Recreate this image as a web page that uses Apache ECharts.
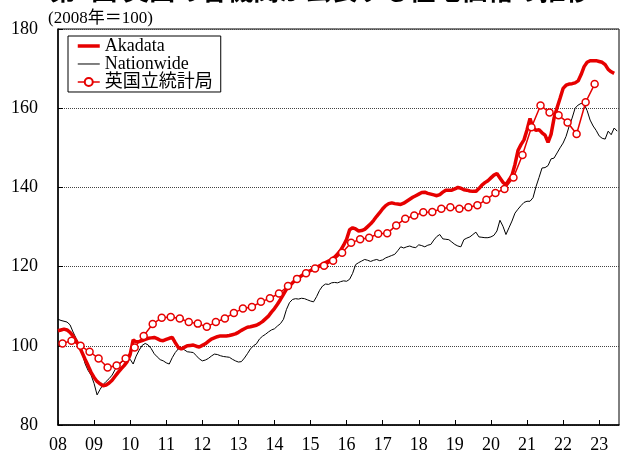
<!DOCTYPE html>
<html>
<head>
<meta charset="utf-8">
<script src="https://cdn.jsdelivr.net/npm/echarts@6/dist/echarts.min.js"></script>
<style>
  html, body { margin: 0; padding: 0; background: #fff; }
  #chart { width: 620px; height: 454px; }
</style>
</head>
<body>
<div id="chart"></div>
<script>
// monthly, Jan 2008 onward (2008 = 100)
const akadata = [
  103.8, 104.0, 104.2, 104.0, 103.4, 102.5, 101.3, 100.0, 98.3, 96.6, 95.0, 93.3,
  92.0, 91.0, 90.4, 89.9, 90.1, 90.6, 91.3, 92.3, 93.3, 94.2, 95.0, 96.0,
  97.8, 101.5, 101.0, 101.1, 101.3, 101.6, 101.9, 102.0, 102.1, 101.8, 101.4, 101.3,
  101.6, 101.9, 102.1, 100.8, 99.6, 99.2, 99.6, 100.0, 100.1, 100.2, 99.9, 99.7,
  100.1, 100.5, 101.1, 101.7, 102.0, 102.3, 102.5, 102.5, 102.5, 102.6, 102.8, 103.0,
  103.4, 103.9, 104.3, 104.7, 104.8, 105.0, 105.2, 105.6, 106.1, 106.8, 107.5, 108.5,
  109.4, 110.5, 111.7, 113.0, 114.3, 115.1, 115.9, 116.6, 117.2, 117.7, 118.2, 118.6,
  119.0, 119.4, 119.8, 120.2, 120.6, 121.0, 121.4, 121.8, 122.4, 123.2, 124.1, 125.4,
  126.9, 129.3, 129.8, 129.5, 129.0, 129.1, 129.4, 130.1, 130.8, 131.7, 132.7, 133.6,
  134.6, 135.4, 135.9, 136.1, 135.9, 135.8, 135.7, 136.0, 136.5, 137.0, 137.5, 137.9,
  138.3, 138.7, 138.8, 138.5, 138.3, 138.1, 137.9, 138.2, 138.8, 139.3, 139.3, 139.3,
  139.6, 140.0, 139.8, 139.4, 139.3, 139.1, 139.0, 139.0, 139.7, 140.6, 141.2, 141.7,
  142.4, 143.1, 143.5, 142.4, 141.3, 140.7, 141.9, 143.0, 145.8, 149.3, 150.8, 152.0,
  154.5, 157.4, 155.0, 154.4, 154.6, 153.8, 153.2, 151.4, 153.4, 157.5, 160.1, 162.5,
  165.0, 165.8, 166.1, 166.2, 166.4, 166.9, 168.5, 170.5, 171.6, 172.0, 172.0, 172.0,
  171.8, 171.6, 171.0, 169.8, 169.2, 168.8
];

const nationwide = [
  106.7, 106.4, 106.2, 106.0, 105.3, 103.5, 101.9, 100.3, 98.3, 95.5, 93.8, 92.6,
  90.5, 87.6, 89.0, 90.2, 91.0, 91.7, 92.6, 94.0, 94.9, 95.8, 96.3, 96.5,
  96.6, 95.4, 97.4, 98.9, 100.1, 100.6, 100.2, 99.3, 98.0, 97.2, 96.5, 96.2,
  95.7, 95.4, 97.0, 98.3, 99.2, 99.5, 99.0, 98.5, 98.4, 98.3, 97.5, 96.7,
  96.2, 96.4, 96.8, 97.4, 97.9, 97.8, 97.5, 97.3, 97.2, 97.1, 96.6, 96.2,
  95.9, 96.0, 96.9, 98.0, 99.2, 100.0, 100.5, 101.7, 102.4, 102.9, 103.5, 104.0,
  104.3, 105.0, 105.6, 106.7, 109.2, 110.9, 111.7, 111.9, 111.8, 112.0, 111.9, 111.6,
  111.3, 111.1, 112.4, 114.0, 115.1, 115.6, 115.5, 115.9, 116.0, 115.9, 116.2, 116.4,
  116.3, 116.8, 118.3, 120.5, 121.0, 121.4, 121.8, 121.6, 121.3, 121.6, 121.8, 121.5,
  121.7, 122.2, 122.5, 122.8, 123.1, 124.0, 125.0, 124.7, 125.0, 125.2, 124.9, 124.8,
  125.5, 125.3, 125.0, 125.4, 125.6, 126.7, 127.6, 128.1, 127.0, 126.9, 126.8, 126.2,
  125.6, 125.2, 125.0, 126.8, 127.2, 127.5, 128.1, 128.7, 127.5, 127.4, 127.3, 127.3,
  127.5, 127.9, 129.0, 131.7, 130.2, 128.1, 129.8, 131.5, 133.5, 134.5, 135.4, 136.2,
  136.5, 136.5, 137.4, 140.2, 142.5, 144.9, 145.0, 145.5, 147.2, 147.4, 148.7, 150.0,
  151.2, 152.9, 155.4, 157.5, 160.0, 160.8, 161.2, 161.0, 159.4, 157.0, 155.5, 154.4,
  153.0, 152.4, 152.2, 154.2, 153.3, 155.0, 154.2
];

// quarterly, 2008Q1 - 2022Q4
const ons = [
  100.6, 101.3, 100.0, 98.5, 96.8, 94.5, 95.0, 96.8, 99.6, 102.5, 105.5, 107.1,
  107.3, 106.9, 106.0, 105.6, 104.8, 106.0, 106.9, 108.3, 109.4, 109.8, 111.1, 112.0,
  113.2, 115.1, 116.9, 118.3, 119.5, 120.2, 121.5, 123.5, 126.0, 126.9, 127.3, 128.3,
  128.4, 130.4, 132.1, 132.9, 133.7, 133.8, 134.6, 135.0, 134.6, 135.0, 135.5, 136.9,
  138.6, 139.6, 142.5, 148.2, 155.2, 160.7, 158.9, 158.2, 156.4, 153.5, 161.5, 166.1
];

const yearLabels = ['08', '09', '10', '11', '12', '13', '14', '15', '16', '17', '18', '19', '20', '21', '22', '23'];

const serif = '"Liberation Serif", "Noto Sans CJK JP", serif';
const legendText = { fontSize: 18, lineHeight: 17, fontFamily: serif, fontWeight: 'normal', color: '#000' };

const myChart = echarts.init(document.getElementById('chart'));

const option = {
  animation: false,
  textStyle: { fontFamily: serif, color: '#000' },
  graphic: [
    {
      type: 'text',
      left: 50,
      top: -23,
      style: {
        text: '第2図 英国の各機関が公表する住宅価格の推移',
        font: 'bold 26px "Noto Sans CJK JP", sans-serif',
        fill: '#000'
      }
    },
    {
      type: 'text',
      left: 48,
      top: 10,
      style: {
        text: '(2008年＝100)',
        font: '17px "Liberation Serif", "Noto Sans CJK JP", serif',
        fill: '#000'
      }
    }
  ],
  grid: {
    left: 58,
    right: 1,
    top: 29,
    bottom: 28,
    show: true,
    borderColor: '#000',
    borderWidth: 1
  },
  legend: {
    data: [
      { name: 'Akadata', itemStyle: { opacity: 0 }, lineStyle: { width: 3.5 }, textStyle: legendText },
      { name: 'Nationwide', itemStyle: { opacity: 0 }, lineStyle: { width: 1 }, textStyle: legendText },
      { name: '英国立統計局', lineStyle: { width: 1.5 }, textStyle: legendText }
    ],
    orient: 'vertical',
    left: 68,
    top: 36,
    padding: [1, 8, 1, 8],
    itemGap: 0,
    itemWidth: 22,
    itemHeight: 10,
    borderColor: '#000',
    borderWidth: 1,
    backgroundColor: '#fff',
    textStyle: legendText
  },
  xAxis: {
    type: 'value',
    min: 0,
    max: 186.6,
    interval: 12,
    axisLine: { lineStyle: { color: '#000', width: 1.5 } },
    axisTick: { inside: true, length: 5, lineStyle: { color: '#000' } },
    splitLine: { show: false },
    axisLabel: {
      fontSize: 18,
      margin: 11,
      color: '#000',
      fontFamily: serif,
      showMaxLabel: false,
      formatter: (v) => yearLabels[Math.round(v / 12)] || ''
    }
  },
  yAxis: {
    type: 'value',
    min: 80,
    max: 180,
    interval: 20,
    axisLine: { show: true, lineStyle: { color: '#000', width: 1.5 } },
    axisTick: { show: true, inside: true, length: 5, lineStyle: { color: '#000' } },
    splitLine: { show: true, lineStyle: { color: '#444', width: 1, type: [1, 1] } },
    axisLabel: { fontSize: 18, margin: 20, color: '#000', fontFamily: serif }
  },
  series: [
    {
      name: 'Nationwide',
      type: 'line',
      data: nationwide.map((v, i) => [i, v]),
      symbol: 'none',
      lineStyle: { color: '#000', width: 1 },
      itemStyle: { color: '#000' },
      z: 2
    },
    {
      name: 'Akadata',
      type: 'line',
      data: akadata.map((v, i) => [i, v]),
      symbol: 'none',
      lineStyle: { color: '#e60000', width: 3.5 },
      itemStyle: { color: '#e60000' },
      z: 3
    },
    {
      name: '英国立統計局',
      type: 'line',
      data: ons.map((v, i) => [i * 3 + 1.5, v]),
      symbol: 'circle',
      symbolSize: 7,
      lineStyle: { color: '#e60000', width: 1.5 },
      itemStyle: { color: '#fff', borderColor: '#e60000', borderWidth: 1.5 },
      z: 4
    }
  ]
};

myChart.setOption(option);
</script>
</body>
</html>
